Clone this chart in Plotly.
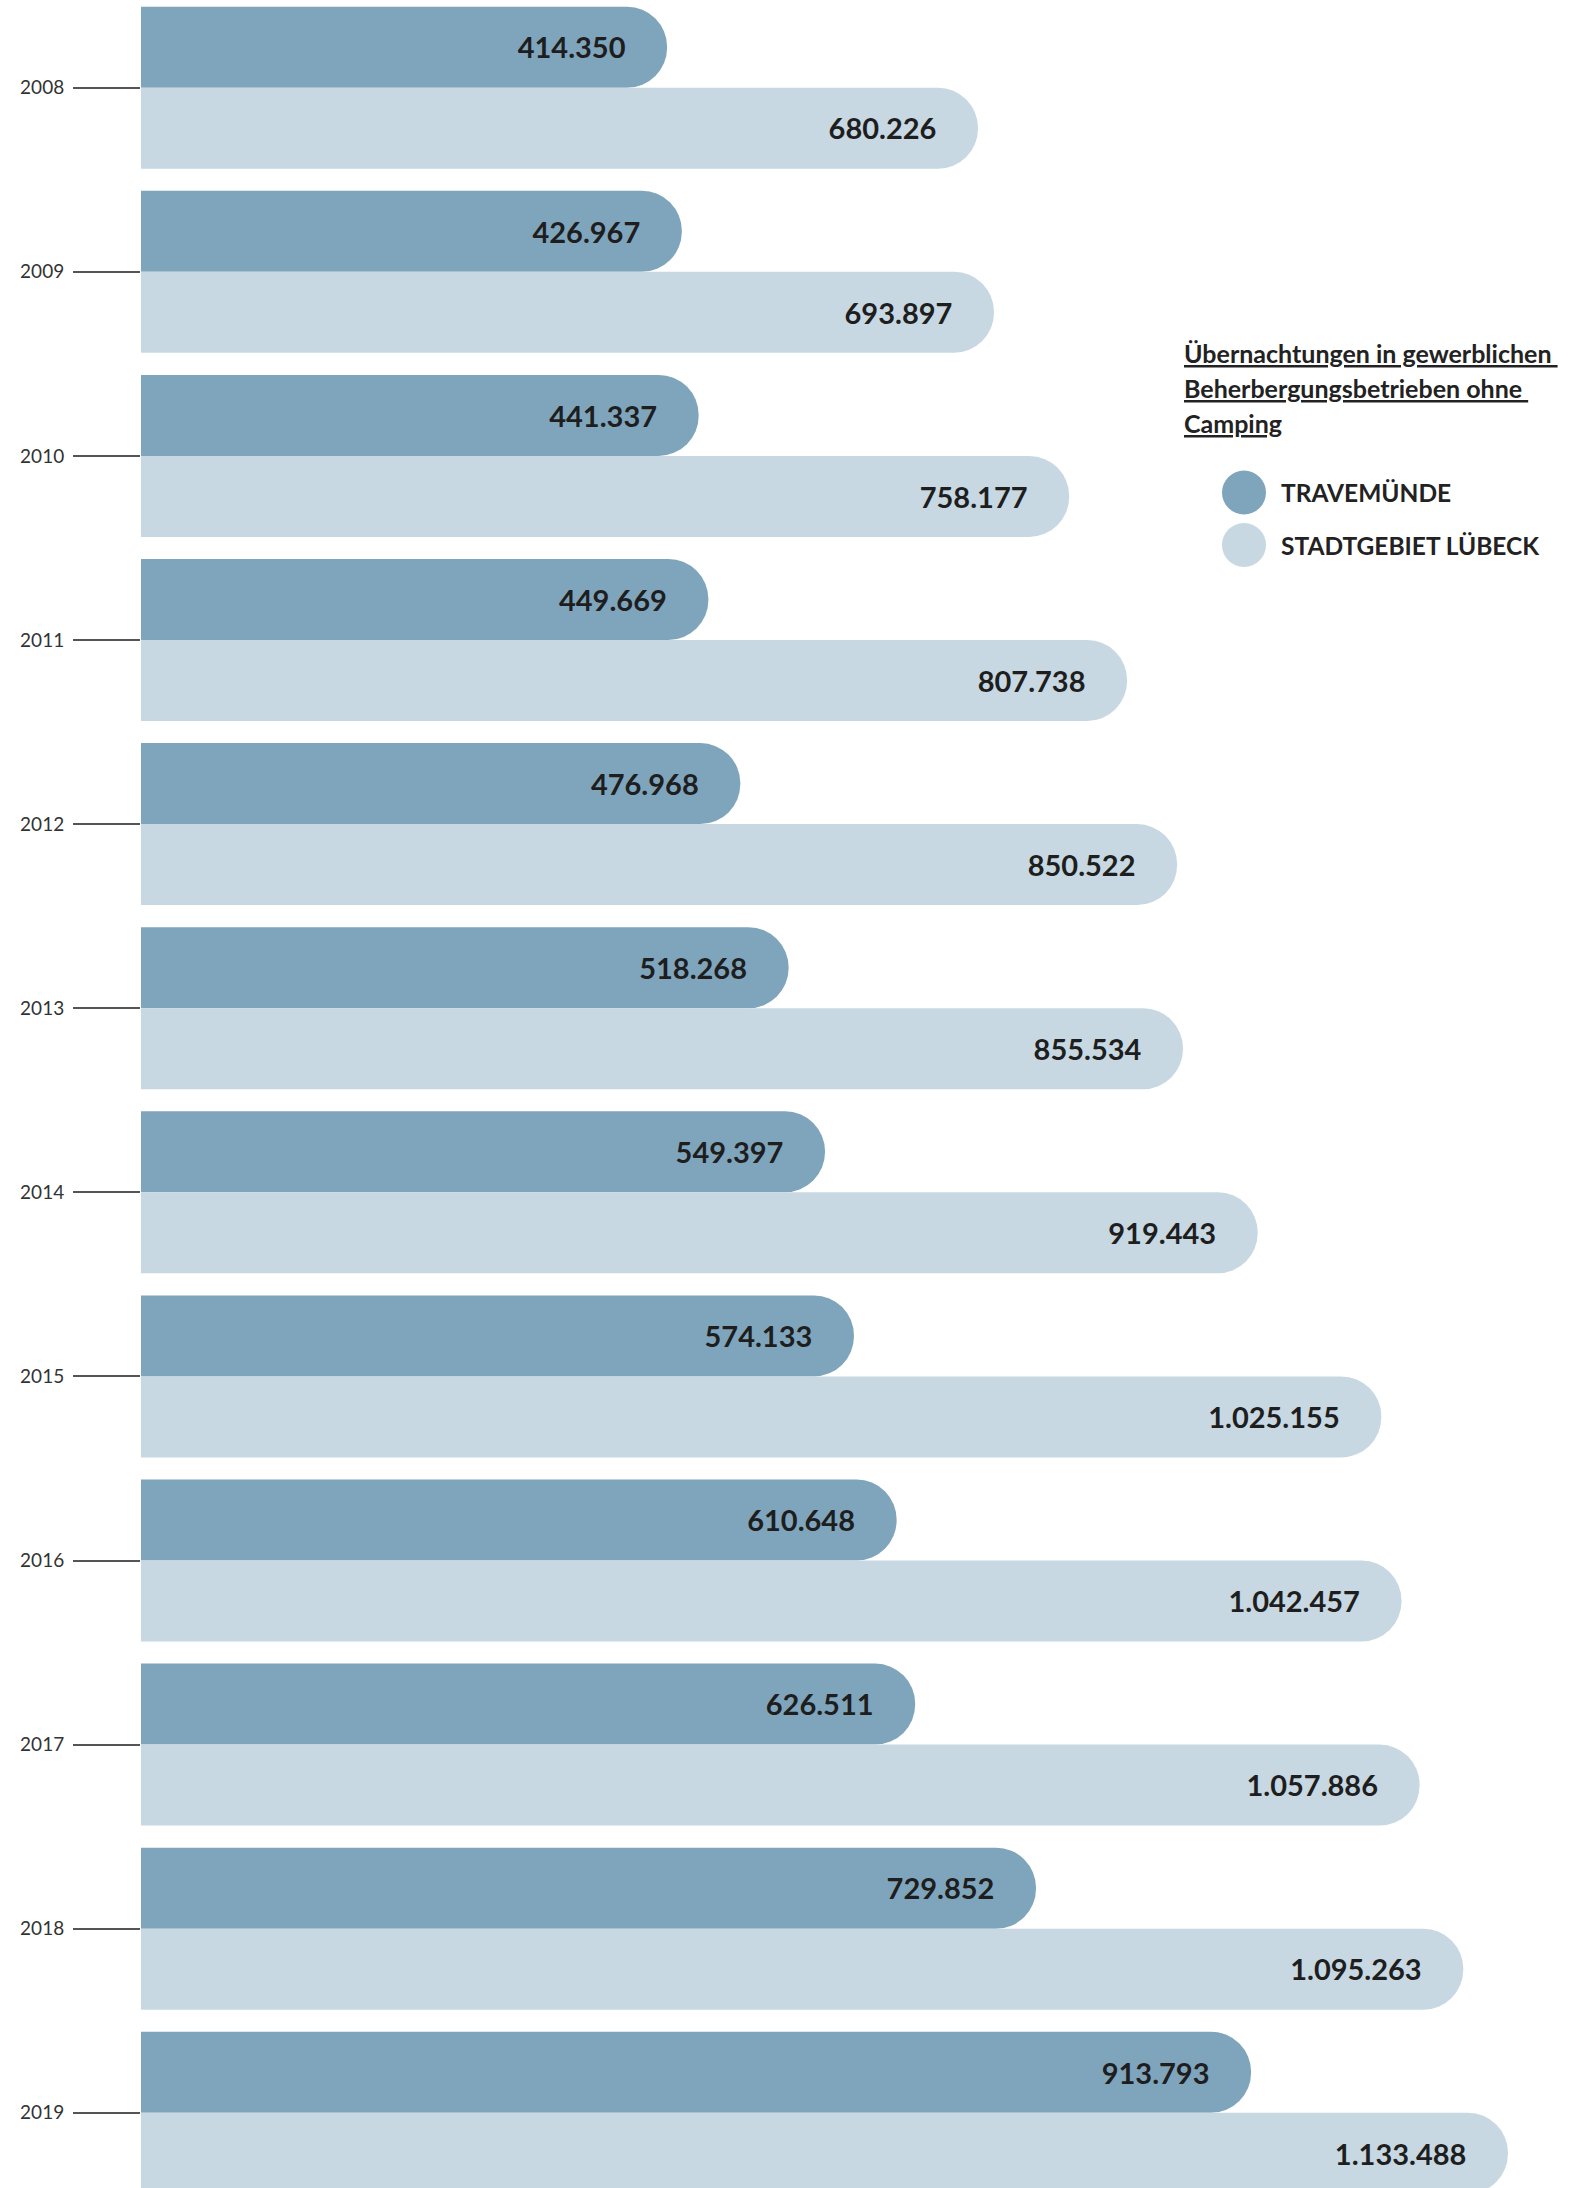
import plotly.graph_objects as go

years = [2008, 2009, 2010, 2011, 2012, 2013, 2014, 2015, 2016, 2017, 2018, 2019]
year_labels = [str(y) for y in years]
travemuende = [414350, 426967, 441337, 449669, 476968, 518268, 549397, 574133,
               610648, 626511, 729852, 913793]
luebeck = [680226, 693897, 758177, 807738, 850522, 855534, 919443, 1025155,
           1042457, 1057886, 1095263, 1133488]

DARK = "#7fa5bd"
LIGHT = "#c7d8e2"
TEXT = "#1e1e1e"
W, H = 1593, 2188
LEFT = 141
PX_PER_UNIT = 0.0011693
CAP_UNITS = 41.6 / PX_PER_UNIT          # length of the rounded cap, in data units
X_MAX = (W - LEFT) / PX_PER_UNIT
BARGAP = 0.12
HALF = (1 - BARGAP) / 4                  # offset of each bar centre within its group
TEXT_NUDGE = 4 / 184.1                   # small downward optical nudge for labels

fig = go.Figure()
series = [("TRAVEMÜNDE", travemuende, DARK, -HALF),
          ("STADTGEBIET LÜBECK", luebeck, LIGHT, HALF)]
for name, vals, col, off in series:
    fig.add_trace(go.Bar(
        name=name, y=years, x=[v + CAP_UNITS for v in vals], orientation="h",
        marker=dict(color=col, line=dict(width=0), cornerradius="50%"),
        showlegend=False, hoverinfo="skip",
    ))
for name, vals, col, off in series:
    fig.add_trace(go.Scatter(
        x=vals, y=[y + off + TEXT_NUDGE for y in years], mode="text",
        text=[f"{v:,}".replace(",", ".") for v in vals],
        textposition="middle left",
        textfont=dict(family="Lato", size=29, color=TEXT, weight="bold"),
        showlegend=False, hoverinfo="skip",
    ))

fig.update_layout(
    width=W, height=H, margin=dict(l=0, r=0, t=0, b=0),
    paper_bgcolor="white", plot_bgcolor="white",
    barmode="group", bargap=BARGAP, bargroupgap=0,
    xaxis=dict(domain=[LEFT / W, 1], range=[0, X_MAX], visible=False,
               showgrid=False, zeroline=False),
    yaxis=dict(range=[2008 + (H - 87.7) / 184.1, 2008 - 87.7 / 184.1],
               tickvals=years, ticktext=year_labels, ticks="outside",
               ticklen=67, tickwidth=1.5, tickcolor="#555", ticklabelstandoff=5,
               showgrid=False, zeroline=False, showline=False,
               tickfont=dict(family="Lato", size=19, color="#333")),
    font=dict(family="Lato"),
)

# Legend (drawn manually)
title_lines = ["Übernachtungen in gewerblichen\u00a0", "Beherbergungsbetrieben ohne\u00a0", "Camping"]
for i, line in enumerate(title_lines):
    fig.add_annotation(text=f"<u>{line}</u>", xref="paper", yref="paper",
                       x=1182 / W, y=1 - (353 + 35 * i) / H, xanchor="left", yanchor="middle",
                       showarrow=False,
                       font=dict(family="Lato", size=25, color="#222", weight="bold"))
for name, col, cy in [("TRAVEMÜNDE", DARK, 492.5), ("STADTGEBIET LÜBECK", LIGHT, 545)]:
    fig.add_shape(type="circle", xref="paper", yref="paper",
                  xsizemode="pixel", ysizemode="pixel",
                  xanchor=1244 / W, yanchor=1 - cy / H,
                  x0=-22, x1=22, y0=-22, y1=22,
                  fillcolor=col, line=dict(width=0))
    fig.add_annotation(text=f"<b>{name}</b>", xref="paper", yref="paper",
                       x=1279 / W, y=1 - cy / H, xanchor="left", yanchor="middle",
                       showarrow=False, font=dict(family="Lato", size=24.5, color="#222"))

fig.write_html("out.html", config={"displayModeBar": False},
               post_script="document.body.style.margin='0';")
